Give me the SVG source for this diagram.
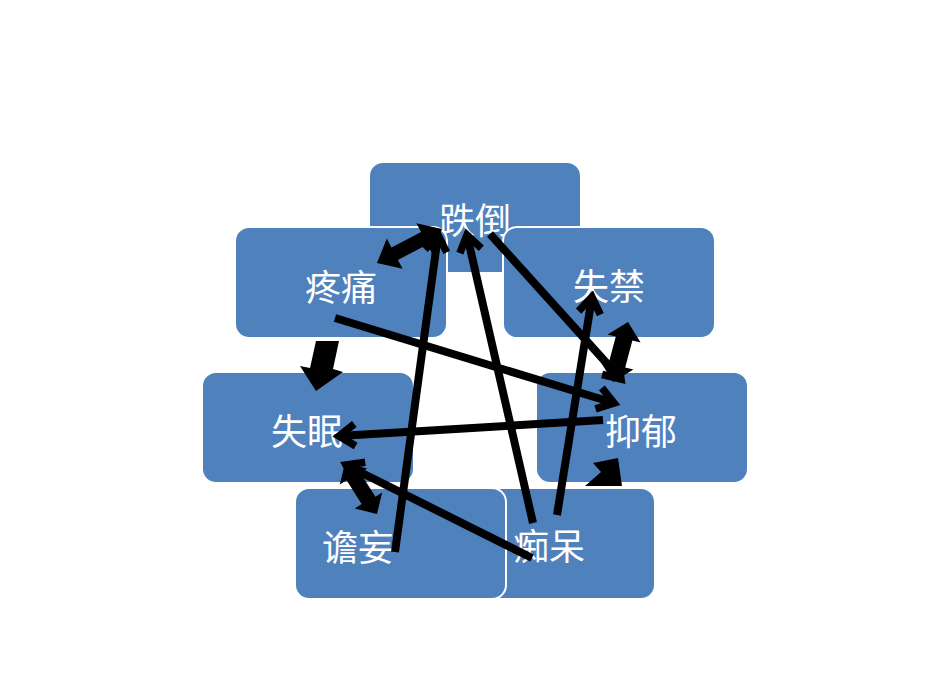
<svg xmlns="http://www.w3.org/2000/svg" width="950" height="692" viewBox="0 0 950 692">
<defs>
<style>
.box{fill:#4F81BD;stroke:#FFFFFF;stroke-width:2}
.lbl{font-family:"Noto Sans CJK SC","Noto Sans",sans-serif;font-size:36px;fill:#FFFFFF;text-anchor:middle;dominant-baseline:central}
.ln{stroke:#000000;stroke-width:8;fill:none;stroke-linecap:butt;marker-end:url(#ah)}
.blk{fill:#000000;stroke:none}
</style>
<marker id="ah" viewBox="-26 -16 34 32" refX="0" refY="0" markerWidth="34" markerHeight="32" markerUnits="userSpaceOnUse" orient="auto">
<path d="M-16,-11 L0,0 L-16,11" fill="none" stroke="#000000" stroke-width="7.5" stroke-linejoin="miter"/>
</marker>
</defs>
<rect width="950" height="692" fill="#FFFFFF"/>
<g id="nodes">
<g id="node-dieda"><rect class="box" x="369" y="162" width="212" height="111" rx="14"/><text class="lbl" x="475" y="218">跌倒</text></g>
<g id="node-tengtong"><rect class="box" x="235" y="227" width="212" height="111" rx="14"/><text class="lbl" x="341" y="285">疼痛</text></g>
<g id="node-shijin"><rect class="box" x="503" y="227" width="212" height="111" rx="14"/><text class="lbl" x="609" y="284">失禁</text></g>
<g id="node-shimian"><rect class="box" x="202" y="372" width="212" height="111" rx="14"/><text class="lbl" x="307" y="429">失眠</text></g>
<g id="node-yiyu"><rect class="box" x="536" y="372" width="212" height="111" rx="14"/><text class="lbl" x="641" y="429">抑郁</text></g>
<g id="node-chidai"><rect class="box" x="444" y="488" width="211" height="111" rx="14"/><text class="lbl" x="549" y="544">痴呆</text></g>
<g id="node-zhanwang"><rect class="box" x="295" y="488" width="211" height="111" rx="14"/><text class="lbl" x="358" y="545">谵妄</text></g>
</g>
<g id="connectors">
<polygon class="blk" points="377,263 386.8,238.6 391.5,247.5 421.1,232.1 416.4,223.2 442,229 432.2,253.4 427.5,244.5 397.9,259.9 402.6,268.8"/>
<polygon class="blk" points="316,341 339,341 333,369 343,372 316,391 300,366 310,368"/>
<polygon class="blk" points="628,322 640.6,342.4 632.4,340.5 625.2,367.5 633.4,369.4 613,382 600.4,361.6 608.6,363.5 615.8,336.5 607.6,334.6"/>
<polygon class="blk" points="345,463 367.2,468.6 360.4,472.9 375.4,496.7 382.2,492.4 377,514 354.8,508.4 361.6,504.1 346.6,480.3 339.8,484.6"/>
<polygon class="blk" points="593,463 618,458 622,486 585,486 601,472"/>
<line class="ln" x1="395" y1="552" x2="438" y2="235"/>
<line class="ln" x1="533" y1="523" x2="467" y2="235"/>
<line class="ln" x1="490" y1="234" x2="621" y2="379"/>
<line class="ln" x1="557" y1="515" x2="592" y2="297"/>
<line class="ln" x1="335" y1="318" x2="614" y2="403"/>
<line class="ln" x1="603" y1="420" x2="339" y2="436"/>
<line class="ln" x1="532" y1="558" x2="346" y2="465"/>
</g>
</svg>
